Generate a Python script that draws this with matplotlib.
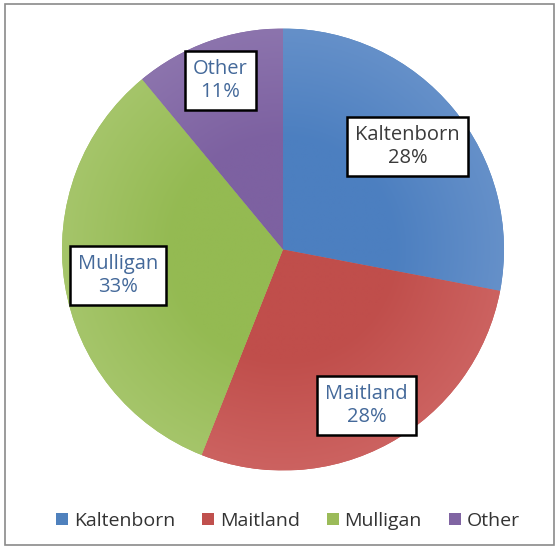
import matplotlib
matplotlib.use("Agg")
import matplotlib.pyplot as plt
import numpy as np
from matplotlib.colors import LinearSegmentedColormap, to_rgb
from matplotlib.patches import Rectangle, Patch

categories = ["Kaltenborn", "Maitland", "Mulligan", "Other"]
values = [28, 28, 33, 11]
labels = ["Kaltenborn\n28%", "Maitland\n28%", "Mulligan\n33%", "Other\n11%"]

inner_colors = ["#4c7fc0", "#c04e4b", "#94ba52", "#7d61a1"]
outer_colors = ["#6590c9", "#cc6260", "#a5c56a", "#8c74ad"]
legend_colors = ["#4f81bd", "#c0504d", "#9bbb59", "#8064a2"]
label_pos = [(0.563, 0.468), (0.378, -0.707), (-0.748, -0.117), (-0.284, 0.766)]
label_colors = ["#3a3a3a", "#44699a", "#44699a", "#44699a"]

W, H = 559, 548
fig = plt.figure(figsize=(W / 100, H / 100), dpi=100)
fig.patch.set_facecolor("white")

# outer frame
fig.add_artist(Rectangle((5 / W, 3 / H), 549 / W, 541 / H, transform=fig.transFigure,
                         fill=False, edgecolor="#8a8a8a", linewidth=1.2))

ax = fig.add_axes([62 / W, (H - 472) / H, 442 / W, 445 / H])
ax.set_xlim(-1, 1)
ax.set_ylim(-1, 1)
ax.set_aspect("equal")
ax.axis("off")

wedges, _ = ax.pie(values, startangle=90, counterclock=False, colors=legend_colors,
                   radius=1, wedgeprops=dict(linewidth=0))
ax.set_xlim(-1, 1)
ax.set_ylim(-1, 1)

# radial gradients clipped to wedges
n = 400
xs = np.linspace(-1, 1, n)
X, Y = np.meshgrid(xs, xs)
R = np.sqrt(X ** 2 + Y ** 2)
for w, ci, co in zip(wedges, inner_colors, outer_colors):
    cmap = LinearSegmentedColormap.from_list("g", [to_rgb(ci), to_rgb(ci), to_rgb(co)])
    im = ax.imshow(R, cmap=cmap, vmin=0, vmax=1, extent=(-1, 1, -1, 1), origin="lower",
                   interpolation="bilinear", zorder=1)
    im.set_clip_path(w)
    w.set_zorder(0.5)

for lab, (x, y), c in zip(labels, label_pos, label_colors):
    ax.text(x, y, lab, ha="center", va="center", fontsize=14.5, color=c, family="Open Sans",
            linespacing=1.2, zorder=5,
            bbox=dict(boxstyle="square,pad=0.4", facecolor="white", edgecolor="black", linewidth=1.8))

handles = [Patch(facecolor=c, edgecolor="none") for c in legend_colors]
fig.legend(handles, categories, loc="center", bbox_to_anchor=(0.515, (H - 521) / H), ncol=4,
           frameon=False, prop=dict(family="Open Sans", size=14), handlelength=0.6,
           handleheight=0.6, handletextpad=0.3, columnspacing=1.4, labelcolor="#333333")

fig.savefig("out.png", dpi=100)
